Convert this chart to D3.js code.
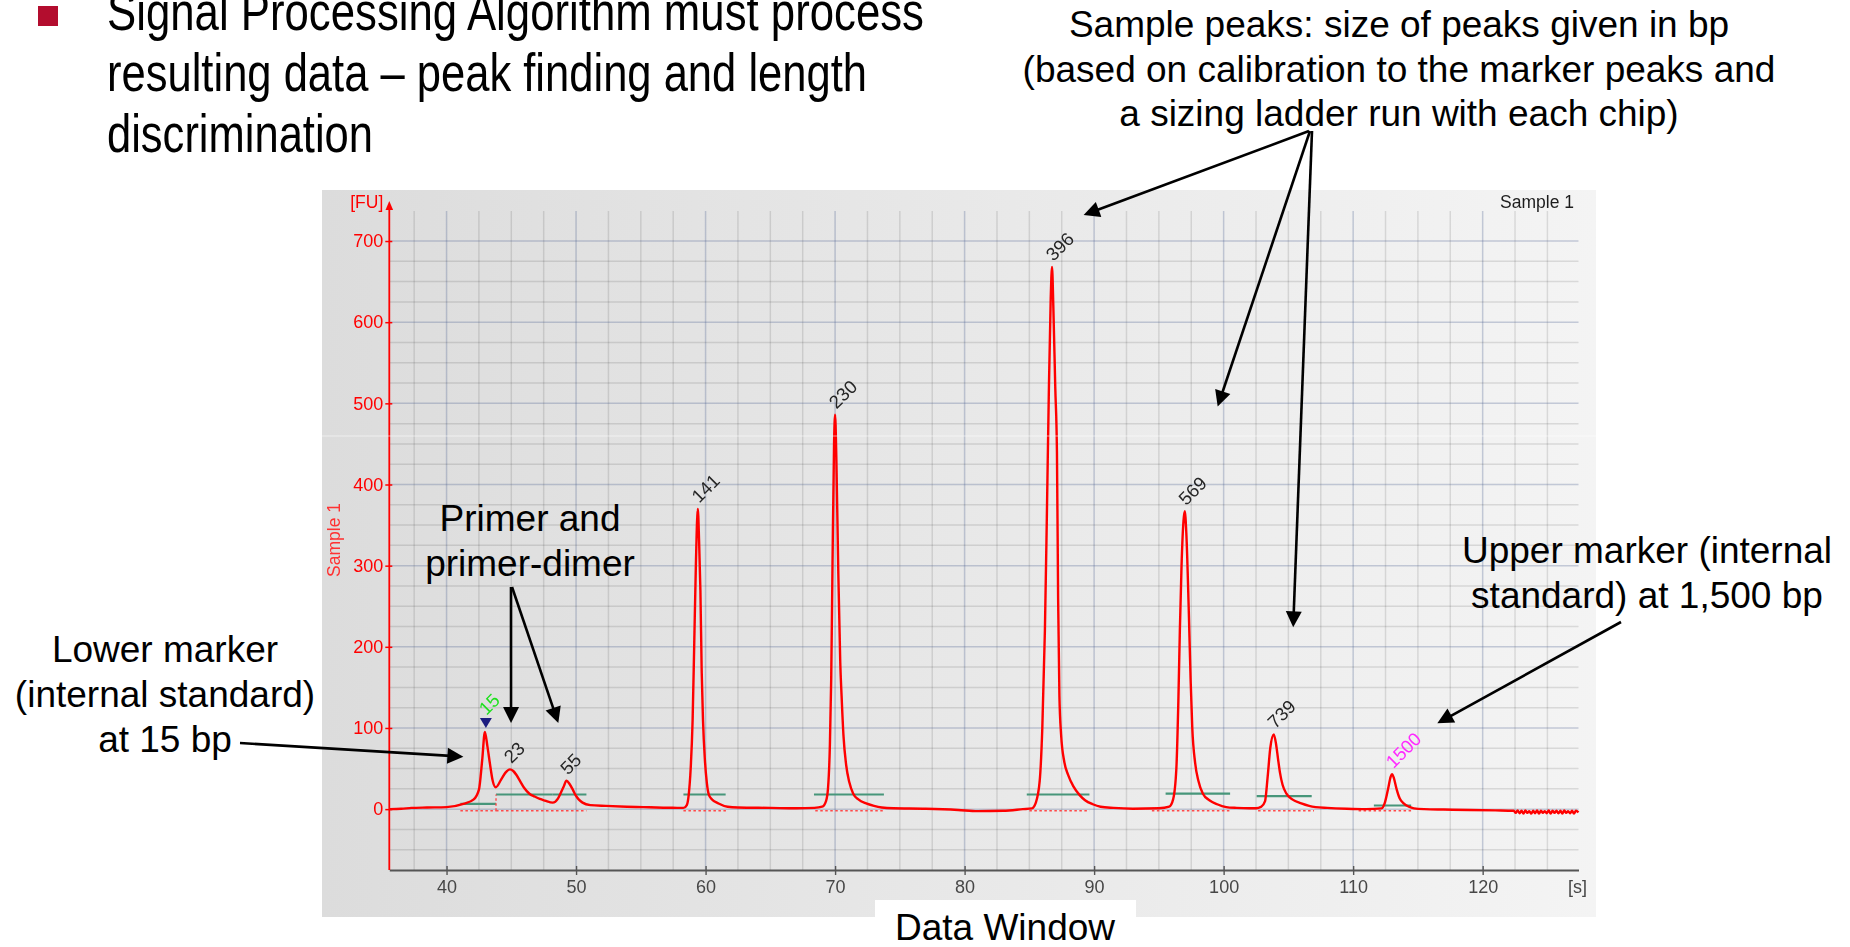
<!DOCTYPE html>
<html>
<head>
<meta charset="utf-8">
<script src="https://cdn.jsdelivr.net/npm/d3@7"></script>
<style>
  html, body { margin: 0; padding: 0; background: #ffffff; }
  svg { display: block; }
</style>
</head>
<body>
<svg id="slide" width="1850" height="947"></svg>
<script>
// ---- Electropherogram trace: migration time [s] and fluorescence [FU] ----
const traceTime = [
  35.6, 36.5, 37.3, 38.5, 40.0, 41.3, 42.1, 42.5, 42.75, 42.96, 43.15, 43.35, 43.55, 43.8,
  44.2, 44.55, 44.89, 45.15, 45.4, 45.7, 46.0, 46.4, 46.8, 47.2, 47.6, 48.2, 48.6, 48.85,
  49.05, 49.26, 49.5, 49.75, 49.95, 50.2, 50.5, 51.1, 52.3, 53.9, 55.2, 56.2, 57.8, 58.3,
  58.55, 58.7, 58.85, 59.0, 59.12, 59.25, 59.4, 59.5, 59.6, 59.7, 59.8, 59.95, 60.1, 60.25,
  60.5, 61.0, 61.7, 62.5, 65.0, 67.0, 68.4, 69.0, 69.3, 69.45, 69.6, 69.7, 69.8, 69.92,
  70.0, 70.1, 70.25, 70.4, 70.5, 70.65, 70.85, 71.1, 71.4, 71.8, 72.4, 73.0, 73.6, 74.5,
  77.0, 79.5, 81.0, 83.0, 84.5, 85.2, 85.5, 85.8, 86.0, 86.2, 86.35, 86.5, 86.65, 86.75,
  86.85, 87.0, 87.13, 87.22, 87.32, 87.45, 87.7, 88.0, 88.4, 88.9, 89.3, 89.9, 90.5, 91.5,
  93.0, 95.0, 95.8, 96.1, 96.35, 96.5, 96.62, 96.75, 96.9, 97.0, 97.12, 97.3, 97.45, 97.58,
  97.8, 98.05, 98.4, 98.9, 99.5, 100.2, 101.0, 102.0, 102.5, 102.9, 103.2, 103.4, 103.6, 103.87,
  104.05, 104.2, 104.35, 104.55, 104.85, 105.3, 106.0, 106.6, 107.1, 108.0, 109.5, 111.0, 112.2, 112.45,
  112.7, 112.9, 113.0, 113.15, 113.35, 113.6, 113.9, 114.3, 114.7, 115.5, 117.0, 119.0, 121.0, 122.4,
  122.55, 122.7, 122.85, 123.0, 123.15, 123.3, 123.45, 123.6, 123.75, 123.9, 124.05, 124.2, 124.35, 124.5,
  124.65, 124.8, 124.95, 125.1, 125.25, 125.4, 125.55, 125.7, 125.85, 126.0, 126.15, 126.3, 126.45, 126.6,
  126.75, 126.9, 127.05, 127.2, 127.4
];
const traceFU = [
  0, 0.5, 1.5, 2, 2.5, 6.5, 12, 24, 60, 95, 78, 56, 36, 27,
  36, 45, 49, 47, 42, 34, 26, 19, 15.5, 12.5, 10.5, 8, 13, 21,
  28, 35, 31, 24, 17.5, 12, 8, 5, 4, 3, 2.5, 2, 1.6, 1.5,
  5, 18, 50, 110, 200, 300, 370, 330, 270, 170, 110, 60, 32, 18,
  12, 7, 3, 2, 1.5, 1, 1.5, 3, 10, 25, 80, 160, 300, 450,
  486, 430, 290, 180, 140, 90, 55, 33, 19, 12, 7, 4, 2, 1,
  0.5, -1, -2.5, -2, 0, 1, 8, 35, 100, 220, 360, 510, 630, 668,
  620, 520, 440, 260, 140, 92, 58, 42, 28, 17, 11, 6, 3, 1.5,
  0.5, 1, 3, 12, 50, 130, 220, 300, 355, 367, 340, 250, 160, 100,
  57, 35, 19, 11, 6, 2.5, 1.5, 1, 1, 3, 10, 40, 75, 92,
  80, 62, 45, 30, 19, 12, 7, 4, 2.5, 1.5, 0.5, 0, 1, 8,
  25, 40, 43, 38, 25, 13, 7, 3, 1, 0, -0.5, -1, -1.5, -2,
  -4.5, -1.5, -5, -2, -5.5, -1.5, -4.5, -2.5, -5.5, -2, -5, -1.5, -5.5, -2,
  -4.5, -2.5, -5, -1.5, -5.5, -2, -4.5, -2, -5, -2, -5.5, -1.5, -4.5, -2.5,
  -5, -2, -5.5, -2, -4
];

// ---- Called peaks: apex time [s], apex height [FU], size [bp] ----
const peakTime   = [42.96, 44.89, 49.26, 59.4, 70.0, 86.75, 97.0, 103.87, 113.0];
const peakFU     = [95, 49, 35, 370, 486, 668, 367, 92, 43];
const peakSizeBp = ["15", "23", "55", "141", "230", "396", "569", "739", "1500"];

// ---- Integration limits per peak: start/end time [s] and baseline level [FU] ----
const limitStart = [41.07, 43.82, 48.2, 58.29, 68.37, 84.8, 95.52, 102.55, 111.6];
const limitEnd   = [43.82, 48.2, 50.8, 61.55, 73.77, 89.64, 100.5, 106.8, 114.48];
const limitLevel = [6.5, 18, 18, 18, 18, 18, 19, 16, 4.5];
const areaStart  = [41.07, 43.82, 58.29, 68.47, 85.0, 94.46, 102.66, 110.42];
const areaEnd    = [43.82, 50.8, 61.6, 73.77, 89.64, 100.6, 106.98, 114.48];
const areaLevel  = -2;

// ---- Axes ----
const timeTicks = [40, 50, 60, 70, 80, 90, 100, 110, 120];
const fuTicks   = [0, 100, 200, 300, 400, 500, 600, 700];
const timeDomain = [35.58, 127.4];
const fuDomain   = [-75, 737];

const lowerMarker = "15";
const upperMarker = "1500";

// ---------------------------------------------------------------
const svg = d3.select("#slide");
const defs = svg.append("defs");

const panelGrad = defs.append("linearGradient")
  .attr("id", "panelFill").attr("x1", "0").attr("x2", "1").attr("y1", "0").attr("y2", "0");
panelGrad.append("stop").attr("offset", "0").attr("stop-color", "#dcdcdc");
panelGrad.append("stop").attr("offset", "1").attr("stop-color", "#f4f4f4");

// lower half of the screenshot is softer than the upper half
const seamY = 436;
const soft = defs.append("filter").attr("id", "lowerSoft")
  .attr("filterUnits", "userSpaceOnUse").attr("primitiveUnits", "userSpaceOnUse")
  .attr("x", 0).attr("y", 0).attr("width", 1850).attr("height", 947);
soft.append("feOffset").attr("in", "SourceGraphic").attr("dx", 0).attr("dy", 0)
  .attr("x", 0).attr("y", 0).attr("width", 1850).attr("height", seamY).attr("result", "crisp");
soft.append("feGaussianBlur").attr("in", "SourceGraphic").attr("stdDeviation", 0.5)
  .attr("x", 0).attr("y", seamY).attr("width", 1850).attr("height", 947 - seamY).attr("result", "blurred");
const merge = soft.append("feMerge");
merge.append("feMergeNode").attr("in", "crisp");
merge.append("feMergeNode").attr("in", "blurred");

const x = d3.scaleLinear().domain(timeDomain).range([389.3, 1578.5]);
const y = d3.scaleLinear().domain(fuDomain).range([870, 211]);

const chartFont = "'Liberation Sans', Arial, sans-serif";
const chart = svg.append("g").attr("filter", "url(#lowerSoft)");

// panel
chart.append("rect")
  .attr("x", 322).attr("y", 190).attr("width", 1274).attr("height", 727)
  .attr("fill", "url(#panelFill)");

// grid
const gridT = d3.range(37.5, 126, 2.5);
const gridF = d3.range(-50, 701, 25);
const grid = chart.append("g");
grid.selectAll("line.v").data(gridT).join("line")
  .attr("x1", d => x(d)).attr("x2", d => x(d))
  .attr("y1", y(fuDomain[1])).attr("y2", y(fuDomain[0]))
  .attr("stroke", d => d % 10 === 0 ? "rgba(70,90,140,0.28)" : "rgba(0,0,0,0.11)")
  .attr("stroke-width", 1.5);
grid.selectAll("line.h").data(gridF).join("line")
  .attr("x1", x(timeDomain[0])).attr("x2", x(timeDomain[1]))
  .attr("y1", d => y(d)).attr("y2", d => y(d))
  .attr("stroke", d => d % 100 === 0 ? "rgba(70,90,140,0.28)" : "rgba(0,0,0,0.11)")
  .attr("stroke-width", 1.5);

// x axis
const xAxis = chart.append("g")
  .attr("transform", `translate(0,${y(fuDomain[0])})`)
  .call(d3.axisBottom(x).tickValues(timeTicks).tickSizeInner(5).tickSizeOuter(0).tickPadding(5));
xAxis.select(".domain").attr("stroke", "#555").attr("stroke-width", 2);
xAxis.selectAll(".tick line").attr("y1", -4).attr("y2", 5).attr("stroke", "#555").attr("stroke-width", 1.4);
xAxis.selectAll(".tick text").attr("fill", "#474747")
  .style("font-family", chartFont).style("font-size", "18px");
chart.append("text").attr("x", 1568).attr("y", 893)
  .attr("fill", "#474747").style("font-family", chartFont).style("font-size", "18px")
  .text("[s]");

// y axis
const yAxis = chart.append("g")
  .attr("transform", `translate(${x(timeDomain[0])},0)`)
  .call(d3.axisLeft(y).tickValues(fuTicks).tickSize(4).tickPadding(2));
yAxis.select(".domain").remove();
yAxis.selectAll(".tick line").attr("x1", 3).attr("x2", -4).attr("stroke", "#ff0000").attr("stroke-width", 1.5);
yAxis.selectAll(".tick text").attr("fill", "#ff0000")
  .style("font-family", chartFont).style("font-size", "18px");
const ax0 = x(timeDomain[0]);
chart.append("line")
  .attr("x1", ax0).attr("x2", ax0)
  .attr("y1", y(fuDomain[0])).attr("y2", y(fuDomain[1]) - 3)
  .attr("stroke", "#ff0000").attr("stroke-width", 1.8);
chart.append("path")
  .attr("d", `M${ax0},${y(fuDomain[1]) - 10} L${ax0 - 3.8},${y(fuDomain[1]) - 1} L${ax0 + 3.8},${y(fuDomain[1]) - 1} Z`)
  .attr("fill", "#ff0000");
chart.append("text").attr("x", ax0 - 6).attr("y", 208).attr("text-anchor", "end")
  .attr("fill", "#ff0000").style("font-family", chartFont).style("font-size", "17.5px")
  .text("[FU]");
chart.append("text")
  .attr("transform", `translate(339.5,540) rotate(-90)`)
  .attr("text-anchor", "middle")
  .attr("fill", "#ff3030").style("font-family", chartFont).style("font-size", "17.5px")
  .text("Sample 1");
chart.append("text").attr("x", 1574).attr("y", 208).attr("text-anchor", "end")
  .attr("fill", "#1e1e1e").style("font-family", chartFont).style("font-size", "17.5px")
  .text("Sample 1");

// integration limits (green) and area baselines (red, dotted)
chart.append("g").selectAll("line").data(limitStart).join("line")
  .attr("x1", d => x(d)).attr("x2", (d, i) => x(limitEnd[i]))
  .attr("y1", (d, i) => y(limitLevel[i])).attr("y2", (d, i) => y(limitLevel[i]))
  .attr("stroke", "#47967a").attr("stroke-width", 2.2);
chart.append("g").selectAll("line").data(areaStart).join("line")
  .attr("x1", d => x(d)).attr("x2", (d, i) => x(areaEnd[i]))
  .attr("y1", y(areaLevel)).attr("y2", y(areaLevel))
  .attr("stroke", "#ff4a4a").attr("stroke-width", 1.7).attr("stroke-dasharray", "2.5,2.5");
chart.append("line")
  .attr("x1", x(limitStart[1])).attr("x2", x(limitStart[1]))
  .attr("y1", y(areaLevel)).attr("y2", y(limitLevel[1]))
  .attr("stroke", "#ff4a4a").attr("stroke-width", 1.4).attr("stroke-dasharray", "2.5,2.5");

// signal trace
const trace = d3.line()
  .x(i => x(traceTime[i]))
  .y(i => y(traceFU[i]))
  .curve(d3.curveMonotoneX);
chart.append("path")
  .attr("d", trace(d3.range(traceTime.length)))
  .attr("fill", "none").attr("stroke", "#ff0000").attr("stroke-width", 2.4)
  .attr("stroke-linejoin", "round");

// lower marker flag
const lm = peakSizeBp.indexOf(lowerMarker);
const tipY = y(peakFU[lm]) - 4;
chart.append("path")
  .attr("d", `M${x(peakTime[lm]) + 1},${tipY} L${x(peakTime[lm]) - 5},${tipY - 10} L${x(peakTime[lm]) + 7},${tipY - 10} Z`)
  .attr("fill", "#1f1f80");

// peak size labels
chart.append("g").selectAll("text").data(peakSizeBp).join("text")
  .attr("transform", (d, i) => {
    const lift = d === lowerMarker ? 16 : 5;
    return `translate(${x(peakTime[i]) + 1.5},${y(peakFU[i]) - lift}) rotate(-45)`;
  })
  .attr("fill", d => d === lowerMarker ? "#1fe01f" : d === upperMarker ? "#ff2cff" : "#262626")
  .style("font-family", chartFont).style("font-size", "18.5px")
  .text(d => d);

// seam between the two halves of the capture
svg.append("line")
  .attr("x1", 322).attr("x2", 1596).attr("y1", seamY).attr("y2", seamY)
  .attr("stroke", "rgba(255,255,255,0.55)").attr("stroke-width", 1);

// ---- slide annotations ----
const slideFont = "'Liberation Sans', Arial, Helvetica, sans-serif";
const notes = svg.append("g").style("font-family", slideFont).attr("fill", "#000");

function block(lines, cx, firstBaseline, step) {
  lines.forEach((t, k) => {
    notes.append("text").attr("x", cx).attr("y", firstBaseline + k * step)
      .attr("text-anchor", "middle").style("font-size", "37px").text(t);
  });
}
block(["Sample peaks: size of peaks given in bp",
       "(based on calibration to the marker peaks and",
       "a sizing ladder run with each chip)"], 1399, 37, 44.5);
block(["Primer and", "primer-dimer"], 530, 531, 44.5);
block(["Lower marker", "(internal standard)", "at 15 bp"], 165, 662, 45);
block(["Upper marker (internal", "standard) at 1,500 bp"], 1647, 563, 44.5);

function arrow(x1, y1, x2, y2) {
  const dx = x2 - x1, dy = y2 - y1, len = Math.hypot(dx, dy);
  const ux = dx / len, uy = dy / len, head = 16, half = 8;
  const bx = x2 - ux * head, by = y2 - uy * head;
  notes.append("line").attr("x1", x1).attr("y1", y1)
    .attr("x2", bx + ux * 3).attr("y2", by + uy * 3)
    .attr("stroke", "#000").attr("stroke-width", 2.6);
  notes.append("path")
    .attr("d", `M${x2},${y2} L${bx - uy * half},${by + ux * half} L${bx + uy * half},${by - ux * half} Z`)
    .attr("fill", "#000");
}
// tails sit under the text blocks, tips point into the plot (time, FU)
arrow(240, 743, x(41.3), y(64.6));
arrow(511, 587, x(44.98), y(106));
arrow(512, 587, x(48.63), y(106));
arrow(1309, 131, x(89.19), y(732));
arrow(1310, 131, x(99.54), y(496));
arrow(1312, 131, x(105.37), y(224));
arrow(1621, 622, x(116.5), y(105.7));

// caption under the plot
svg.append("rect").attr("x", 875).attr("y", 900).attr("width", 261).attr("height", 47).attr("fill", "#ffffff");
svg.append("text").attr("x", 1005).attr("y", 940).attr("text-anchor", "middle")
  .style("font-family", slideFont).style("font-size", "37px").attr("fill", "#000")
  .text("Data Window");

// slide bullet
svg.append("rect").attr("x", 38).attr("y", 6).attr("width", 20).attr("height", 20).attr("fill", "#b30d2e");
const titleLines = ["Signal Processing Algorithm must process",
                    "resulting data \u2013 peak finding and length",
                    "discrimination"];
const titleWidths = [817, 760, 266];
titleLines.forEach((t, k) => {
  svg.append("text").attr("x", 107).attr("y", 29.5 + k * 61)
    .attr("textLength", titleWidths[k]).attr("lengthAdjust", "spacingAndGlyphs")
    .style("font-family", "'Liberation Sans Narrow', 'Liberation Sans', Arial, sans-serif")
    .style("font-size", "53px").attr("fill", "#000")
    .text(t);
});
</script>
</body>
</html>
